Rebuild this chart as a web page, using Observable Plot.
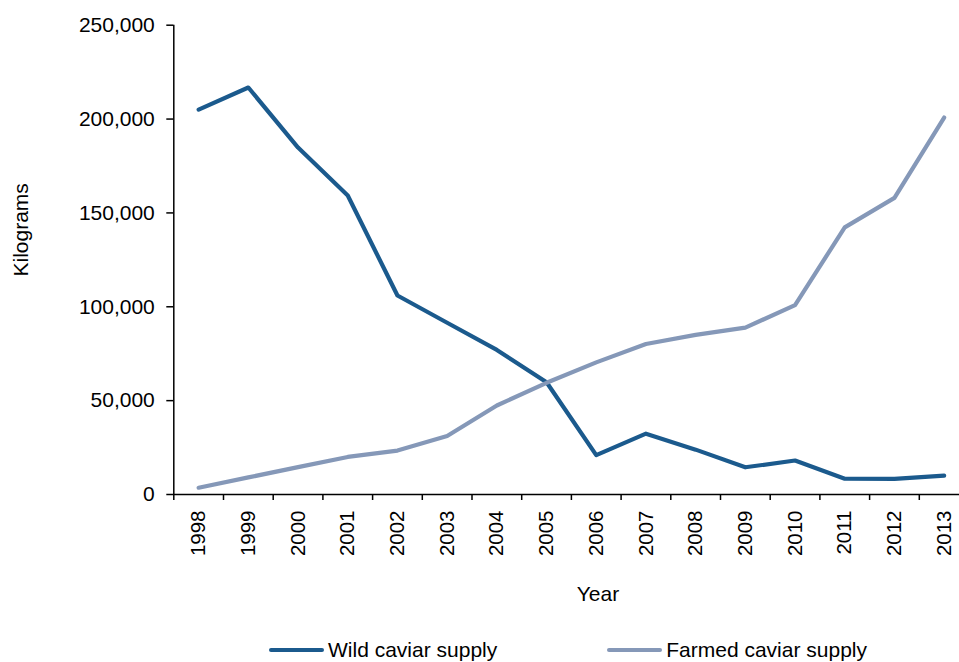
<!DOCTYPE html>
<html>
<head>
<meta charset="utf-8">
<script src="https://cdn.jsdelivr.net/npm/d3@7"></script>
<script src="https://cdn.jsdelivr.net/npm/@observablehq/plot@0.6"></script>
<style>
  body { margin: 0; background: #fff; font-family: "Liberation Sans", Arial, sans-serif; }
  #legend { display: flex; align-items: center; margin-left: 269px; height: 50px; font-size: 21px; color: #000; }
  .item { display: flex; align-items: center; margin-right: 110px; white-space: nowrap; }
  .sw { width: 55px; height: 4px; margin-right: 4px; border-radius: 2px; }
</style>
</head>
<body>
<div id="chart"></div>
<div id="legend"></div>
<script>
const years = [1998, 1999, 2000, 2001, 2002, 2003, 2004, 2005, 2006, 2007, 2008, 2009, 2010, 2011, 2012, 2013];
const wild = [205000, 216800, 184800, 159300, 106000, 91500, 77000, 59800, 21000, 32400, 23900, 14500, 18100, 8400, 8300, 10100];
const farmed = [3600, 9100, 14600, 20000, 23400, 31200, 47400, 59500, 70400, 80200, 85000, 88900, 100900, 142300, 158000, 200800];
const seriesNames = ["Wild caviar supply", "Farmed caviar supply"];
const seriesColors = ["#1b5a8d", "#8598b8"];
const yTicks = [0, 50000, 100000, 150000, 200000, 250000];
const xLabel = "Year";
const yLabel = "Kilograms";

const rows = [];
years.forEach((yr, i) => rows.push({year: yr, value: wild[i], series: seriesNames[0]}));
years.forEach((yr, i) => rows.push({year: yr, value: farmed[i], series: seriesNames[1]}));
const boundaries = years.map(y => y - 0.5);

const chart = Plot.plot({
  width: 959,
  height: 625,
  marginLeft: 173.3,
  marginTop: 24.7,
  marginBottom: 131,
  marginRight: 0,
  style: {fontFamily: "'Liberation Sans', Arial, sans-serif", fontSize: "20px", color: "#000", background: "#fff"},
  x: {type: "linear", domain: [1997.5, 2013.5], range: [173.3, 968.5]},
  y: {domain: [0, 250000]},
  color: {domain: seriesNames, range: seriesColors},
  marks: [
    Plot.axisY({ticks: yTicks, tickFormat: d3.format(","), tickSize: 7, tickPadding: 12, fontSize: 21, label: null, strokeWidth: 1.5}),
    Plot.axisX({ticks: boundaries, tickSize: 6, tickFormat: () => "", label: null, strokeWidth: 1.5}),
    Plot.axisX({ticks: years, tickSize: 0, tickRotate: -90, tickPadding: 16, tickFormat: d => String(d), label: null, fontSize: 20.5}),
    Plot.ruleY([0], {stroke: "#000", strokeWidth: 1.5}),
    Plot.ruleX([1997.5], {y1: 0, y2: 250000, stroke: "#000", strokeWidth: 1.5}),
    Plot.line(rows, {x: "year", y: "value", z: "series", stroke: "series", strokeWidth: 4.2, strokeLinejoin: "round", strokeLinecap: "round"}),
    Plot.text([yLabel], {frameAnchor: "left", textAnchor: "middle", lineAnchor: "middle", rotate: -90, dx: -152.8, dy: -30, fontSize: 21, fill: "#000"}),
    Plot.text([xLabel], {frameAnchor: "bottom", textAnchor: "middle", lineAnchor: "middle", dx: 31.3, dy: 100, fontSize: 21, fill: "#000"})
  ]
});
document.getElementById("chart").appendChild(chart);

const legend = document.getElementById("legend");
seriesNames.forEach((name, i) => {
  const item = document.createElement("div");
  item.className = "item";
  const sw = document.createElement("div");
  sw.className = "sw";
  sw.style.background = seriesColors[i];
  const label = document.createElement("span");
  label.textContent = name;
  item.appendChild(sw);
  item.appendChild(label);
  legend.appendChild(item);
});
</script>
</body>
</html>
